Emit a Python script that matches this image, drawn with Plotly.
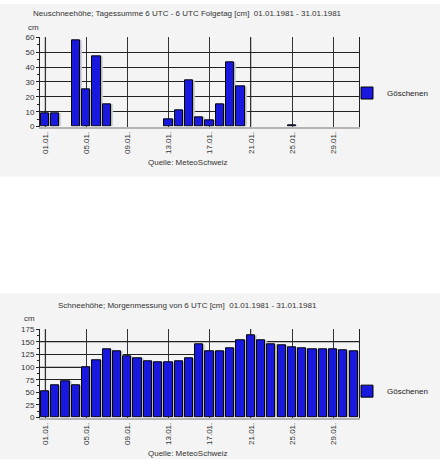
import plotly.graph_objects as go

days = list(range(1, 32))
tick_days = [1, 5, 9, 13, 17, 21, 25, 29]
tick_labels = ['01.01.', '05.01.', '09.01.', '13.01.', '17.01.', '21.01.', '25.01.', '29.01.']
station = 'Göschenen'

# Neuschnee (cm), 01.01.1981 - 31.01.1981
new_snow = [9, 9, 0, 58, 25, 47, 15, 0, 0, 0, 0, 0, 5, 11, 31, 6, 4, 15, 43, 27,
            0, 0, 0, 0, 1, 0, 0, 0, 0, 0, 0]
# Schneehoehe (cm), Morgenmessung 6 UTC
snow_depth = [53, 63, 71, 63, 100, 114, 135, 131, 121, 117, 111, 110, 110, 112, 118, 145,
              132, 131, 138, 153, 164, 153, 145, 143, 139, 137, 136, 135, 135, 133, 131]

title_top = 'Neuschneehöhe; Tagessumme 6 UTC - 6 UTC Folgetag [cm]  01.01.1981 - 31.01.1981'
title_bot = 'Schneehöhe; Morgenmessung von 6 UTC [cm]  01.01.1981 - 31.01.1981'
source = 'Quelle: MeteoSchweiz'

W, H = 440, 464
bar_blue = 'rgb(24,24,222)'
panel = '#f4f4f4'
font = 'Liberation Sans, Arial, sans-serif'

# no bar drawn for days without value
top_vals = [v if v > 0 else None for v in new_snow]

fig = go.Figure()

# shadows + bars, top chart
fig.add_trace(go.Bar(x=days, y=top_vals, width=0.8, offset=-0.22, marker_color='#b9b9b9',
                     showlegend=False, hoverinfo='skip', xaxis='x', yaxis='y'))
fig.add_trace(go.Bar(x=days, y=top_vals, width=0.8, offset=-0.42, name=station,
                     marker=dict(color=bar_blue, line=dict(color='black', width=1)),
                     xaxis='x', yaxis='y', legend='legend'))
# bottom chart
fig.add_trace(go.Bar(x=days, y=snow_depth, width=0.8, offset=-0.22, marker_color='#b9b9b9',
                     showlegend=False, hoverinfo='skip', xaxis='x2', yaxis='y2'))
fig.add_trace(go.Bar(x=days, y=snow_depth, width=0.8, offset=-0.42, name=station,
                     marker=dict(color=bar_blue, line=dict(color='black', width=1)),
                     xaxis='x2', yaxis='y2', legend='legend2'))

def py(px):
    return 1 - px / H

xdom = [40 / W, 359 / W]
xax = dict(range=[0.5, 31.5], tickvals=tick_days, ticktext=tick_labels, tickangle=-90,
           showgrid=True, gridcolor='#333', gridwidth=1, showline=True, linecolor='#b4b4b4',
           linewidth=2, ticks='', tickfont=dict(size=8, color='#333'), zeroline=False,
           domain=xdom, fixedrange=True)
yax = dict(showgrid=True, gridcolor='#222', gridwidth=1, showline=True, linecolor='#222',
           linewidth=1, mirror=True, ticks='outside', ticklen=3, tickcolor='#222',
           tickfont=dict(size=8, color='#333'), zeroline=False, fixedrange=True)
leg = dict(xanchor='left', yanchor='top', bgcolor='rgba(0,0,0,0)',
           font=dict(size=8, color='#222'), itemwidth=30)

fig.update_layout(
    width=W, height=H,
    margin=dict(l=0, r=0, t=0, b=0),
    paper_bgcolor='white', plot_bgcolor=panel,
    font=dict(family=font, size=8, color='#333'),
    barmode='overlay', bargap=0,
    xaxis=dict(xax, anchor='y'),
    yaxis=dict(yax, anchor='x', range=[0, 60], dtick=10, domain=[py(125), py(34)],
               minor=dict(dtick=5, ticks='outside', ticklen=2, tickcolor='#222', showgrid=False)),
    xaxis2=dict(xax, anchor='y2'),
    yaxis2=dict(yax, anchor='x2', range=[0, 175], dtick=25, domain=[py(421.7), py(331.7)],
                minor=dict(dtick=12.5, ticks='outside', ticklen=2, tickcolor='#222', showgrid=False)),
    legend=dict(leg, x=347 / W, y=py(76)),
    legend2=dict(leg, x=347 / W, y=py(380)),
)

shapes = [
    dict(type='rect', xref='paper', yref='paper', x0=0, x1=1, y0=py(176), y1=1,
         fillcolor=panel, line_width=0, layer='below'),
    dict(type='rect', xref='paper', yref='paper', x0=0, x1=1, y0=0, y1=py(295),
         fillcolor=panel, line_width=0, layer='below'),
]
# lighter grid lines
for xr, yr in [('x', 'y'), ('x2', 'y2')]:
    for d in [1, 21]:
        shapes.append(dict(type='line', xref=xr, yref=yr + ' domain', x0=d, x1=d, y0=0, y1=1,
                           line=dict(color='#bdbdbd', width=2), layer='below'))
for v in [50, 100, 150]:
    shapes.append(dict(type='line', xref='x2 domain', yref='y2', x0=0, x1=1, y0=v, y1=v,
                       line=dict(color='#bdbdbd', width=2), layer='below'))
fig.update_layout(shapes=shapes)

ann = [
    (title_top, 187 / W, py(10)),
    ('cm', 33 / W, py(24)),
    (source, 188 / W, py(162)),
    (title_bot, 187 / W, py(307)),
    ('cm', 30 / W, py(321)),
    (source, 188 / W, py(458)),
]
for text, x, y in ann:
    fig.add_annotation(text=text, x=x, y=y, xref='paper', yref='paper', showarrow=False,
                       xanchor='center', yanchor='middle', font=dict(size=8, color='#333'))

fig.write_html("out.html", config={'displayModeBar': False},
               post_script="document.body.style.margin='0';document.body.style.overflow='hidden';")
